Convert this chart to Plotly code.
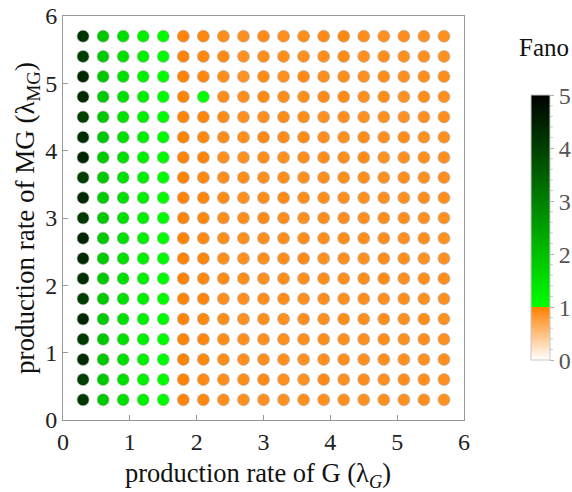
import plotly.graph_objects as go

# Grid of production rates (same for both axes)
lambda_g = [0.3, 0.6, 0.9, 1.2, 1.5, 1.8, 2.1, 2.4, 2.7, 3.0, 3.3, 3.6, 3.9, 4.2, 4.5, 4.8, 5.1, 5.4, 5.7]
lambda_mg = [5.7, 5.4, 5.1, 4.8, 4.5, 4.2, 3.9, 3.6, 3.3, 3.0, 2.7, 2.4, 2.1, 1.8, 1.5, 1.2, 0.9, 0.6, 0.3]

# Fano factor, one row per lambda_mg value (top row first), columns follow lambda_g
fano = [
    [4.20, 1.84, 1.48, 1.23, 1.05, 0.97, 0.95, 0.90, 0.88, 0.92, 0.89, 0.90, 0.91, 0.94, 0.89, 0.88, 0.89, 0.88, 0.88],
    [4.05, 1.82, 1.50, 1.24, 1.06, 0.97, 0.94, 0.91, 0.87, 0.90, 0.89, 0.88, 0.90, 0.91, 0.88, 0.89, 0.88, 0.89, 0.87],
    [4.40, 1.85, 1.48, 1.22, 1.05, 0.98, 0.95, 0.90, 0.86, 0.91, 0.88, 0.93, 0.89, 0.90, 0.88, 0.90, 0.88, 0.89, 0.90],
    [4.35, 1.83, 1.49, 1.23, 1.04, 0.98, 1.01, 0.90, 0.89, 0.93, 0.90, 0.89, 0.91, 0.92, 0.89, 0.90, 0.87, 0.90, 0.89],
    [4.00, 1.84, 1.47, 1.24, 1.05, 0.97, 0.95, 0.91, 0.88, 0.89, 0.91, 0.90, 0.88, 0.89, 0.87, 0.88, 0.86, 0.88, 0.89],
    [4.30, 1.86, 1.48, 1.22, 1.05, 0.98, 0.94, 0.90, 0.89, 0.92, 0.90, 0.92, 0.89, 0.88, 0.90, 0.88, 0.90, 0.87, 0.88],
    [4.40, 1.82, 1.50, 1.23, 1.06, 0.96, 0.96, 0.89, 0.87, 0.90, 0.88, 0.89, 0.90, 0.89, 0.91, 0.87, 0.88, 0.89, 0.88],
    [4.05, 1.84, 1.49, 1.24, 1.05, 0.98, 0.94, 0.89, 0.90, 0.88, 0.89, 0.88, 0.89, 0.90, 0.89, 0.88, 0.89, 0.87, 0.88],
    [4.35, 1.83, 1.48, 1.22, 1.05, 0.97, 0.95, 0.91, 0.88, 0.90, 0.91, 0.90, 0.89, 0.88, 0.87, 0.89, 0.88, 0.89, 0.89],
    [4.10, 1.85, 1.50, 1.23, 1.04, 0.96, 0.94, 0.90, 0.89, 0.91, 0.89, 0.88, 0.90, 0.89, 0.88, 0.90, 0.89, 0.88, 0.88],
    [4.40, 1.84, 1.48, 1.24, 1.05, 0.97, 0.93, 0.90, 0.89, 0.89, 0.88, 0.90, 0.89, 0.90, 0.89, 0.89, 0.88, 0.89, 0.87],
    [4.35, 1.83, 1.49, 1.23, 1.06, 0.97, 0.95, 0.89, 0.88, 0.90, 0.90, 0.91, 0.88, 0.89, 0.87, 0.90, 0.89, 0.87, 0.88],
    [4.30, 1.85, 1.48, 1.22, 1.05, 0.98, 0.94, 0.91, 0.90, 0.88, 0.89, 0.89, 0.90, 0.89, 0.90, 0.91, 0.88, 0.89, 0.89],
    [4.05, 1.84, 1.50, 1.24, 1.05, 0.97, 0.95, 0.89, 0.88, 0.90, 0.90, 0.88, 0.89, 0.88, 0.89, 0.88, 0.89, 0.88, 0.88],
    [4.40, 1.83, 1.48, 1.23, 1.04, 0.96, 0.94, 0.90, 0.88, 0.89, 0.88, 0.89, 0.88, 0.90, 0.88, 0.89, 0.88, 0.90, 0.87],
    [4.10, 1.85, 1.49, 1.22, 1.05, 0.97, 0.95, 0.91, 0.89, 0.88, 0.89, 0.89, 0.90, 0.88, 0.89, 0.90, 0.87, 0.89, 0.88],
    [4.35, 1.84, 1.48, 1.24, 1.06, 0.98, 0.94, 0.90, 0.89, 0.89, 0.88, 0.88, 0.89, 0.89, 0.88, 0.89, 0.88, 0.88, 0.89],
    [4.05, 1.82, 1.50, 1.23, 1.05, 0.98, 0.93, 0.89, 0.90, 0.91, 0.89, 0.87, 0.91, 0.88, 0.89, 0.88, 0.89, 0.89, 0.88],
    [4.10, 1.85, 1.49, 1.22, 1.04, 0.97, 0.94, 0.90, 0.88, 0.88, 0.87, 0.89, 0.88, 0.89, 0.88, 0.88, 0.88, 0.89, 0.87],
]

axis_ticks = [0, 1, 2, 3, 4, 5, 6]
cbar_ticks = [0, 1, 2, 3, 4, 5]
fano_min, fano_max = 0, 5

xs, ys, vs = [], [], []
for row_y, row in zip(lambda_mg, fano):
    for col_x, v in zip(lambda_g, row):
        xs.append(col_x)
        ys.append(row_y)
        vs.append(v)

# white -> orange below 1, bright green -> black above 1
colorscale = [
    [0.0, "#ffffff"],
    [0.2, "#ff8000"],
    [0.2, "#00ff00"],
    [1.0, "#000000"],
]

FONT = "Liberation Serif"
GRAY = "#999999"

# colorbar geometry (paper units)
cb_x = 1.167
cb_y0, cb_y1 = 0.1485, 0.804
cb_thick_px = 19
plot_w_px = 401

fig = go.Figure()
fig.add_trace(go.Scatter(
    x=xs, y=ys, mode="markers",
    marker=dict(
        size=12, color=vs, cmin=fano_min, cmax=fano_max,
        colorscale=colorscale,
        line=dict(width=0.6, color="#b0b0b0"),
        colorbar=dict(
            x=cb_x, xanchor="left", xpad=0,
            y=(cb_y0 + cb_y1) / 2, yanchor="middle", ypad=0,
            len=cb_y1 - cb_y0, lenmode="fraction",
            thickness=cb_thick_px, thicknessmode="pixels",
            outlinewidth=1, outlinecolor="#c8c8c8",
            tickvals=cbar_ticks, ticktext=[str(t) for t in cbar_ticks],
            ticks="outside", ticklen=4, tickcolor="#b0b0b0", tickwidth=1,
            tickfont=dict(family=FONT, size=24, color="#555555"),
        ),
    ),
    hoverinfo="skip", showlegend=False,
))

# minor ticks on the colorbar
cb_right = cb_x + cb_thick_px / plot_w_px
shapes = []
for i in range(fano_min * 5, fano_max * 5 + 1):
    if i % 5 == 0:
        continue
    yy = cb_y0 + (cb_y1 - cb_y0) * (i / 5 - fano_min) / (fano_max - fano_min)
    shapes.append(dict(type="line", xref="paper", yref="paper",
                       x0=cb_right, x1=cb_right + 3 / plot_w_px, y0=yy, y1=yy,
                       line=dict(color="#c8c8c8", width=1)))

fig.update_layout(
    width=572, height=492,
    margin=dict(l=63, r=108, t=16, b=72, autoexpand=False),
    paper_bgcolor="white", plot_bgcolor="white",
    font=dict(family=FONT, color="#222222"),
    shapes=shapes,
    annotations=[
        dict(text="Fano", xref="paper", yref="paper",
             x=1.2, y=0.921, xanchor="center", yanchor="middle",
             showarrow=False, font=dict(family=FONT, size=25, color="#111111")),
        dict(text="production rate of G (λ<sub><i>G</i></sub>)", xref="paper", yref="paper",
             x=0.487, y=-0.136, xanchor="center", yanchor="middle",
             showarrow=False, font=dict(family=FONT, size=26.5, color="#111111")),
    ],
    xaxis=dict(
        range=[0, 6], tickvals=axis_ticks, ticktext=[str(t) for t in axis_ticks],
        ticks="inside", ticklen=5, tickcolor=GRAY,
        showline=True, linecolor=GRAY, linewidth=1, mirror=True,
        showgrid=False, zeroline=False,
        tickfont=dict(family=FONT, size=24, color="#222222"),
    ),
    yaxis=dict(
        range=[0, 6], tickvals=axis_ticks, ticktext=[str(t) for t in axis_ticks],
        ticks="inside", ticklen=5, tickcolor=GRAY,
        showline=True, linecolor=GRAY, linewidth=1, mirror=True,
        showgrid=False, zeroline=False,
        tickfont=dict(family=FONT, size=24, color="#222222"),
        title=dict(text="production rate of MG (λ<sub>MG</sub>)",
                   font=dict(family=FONT, size=27, color="#111111"), standoff=2),
    ),
)

fig.write_html("out.html")
